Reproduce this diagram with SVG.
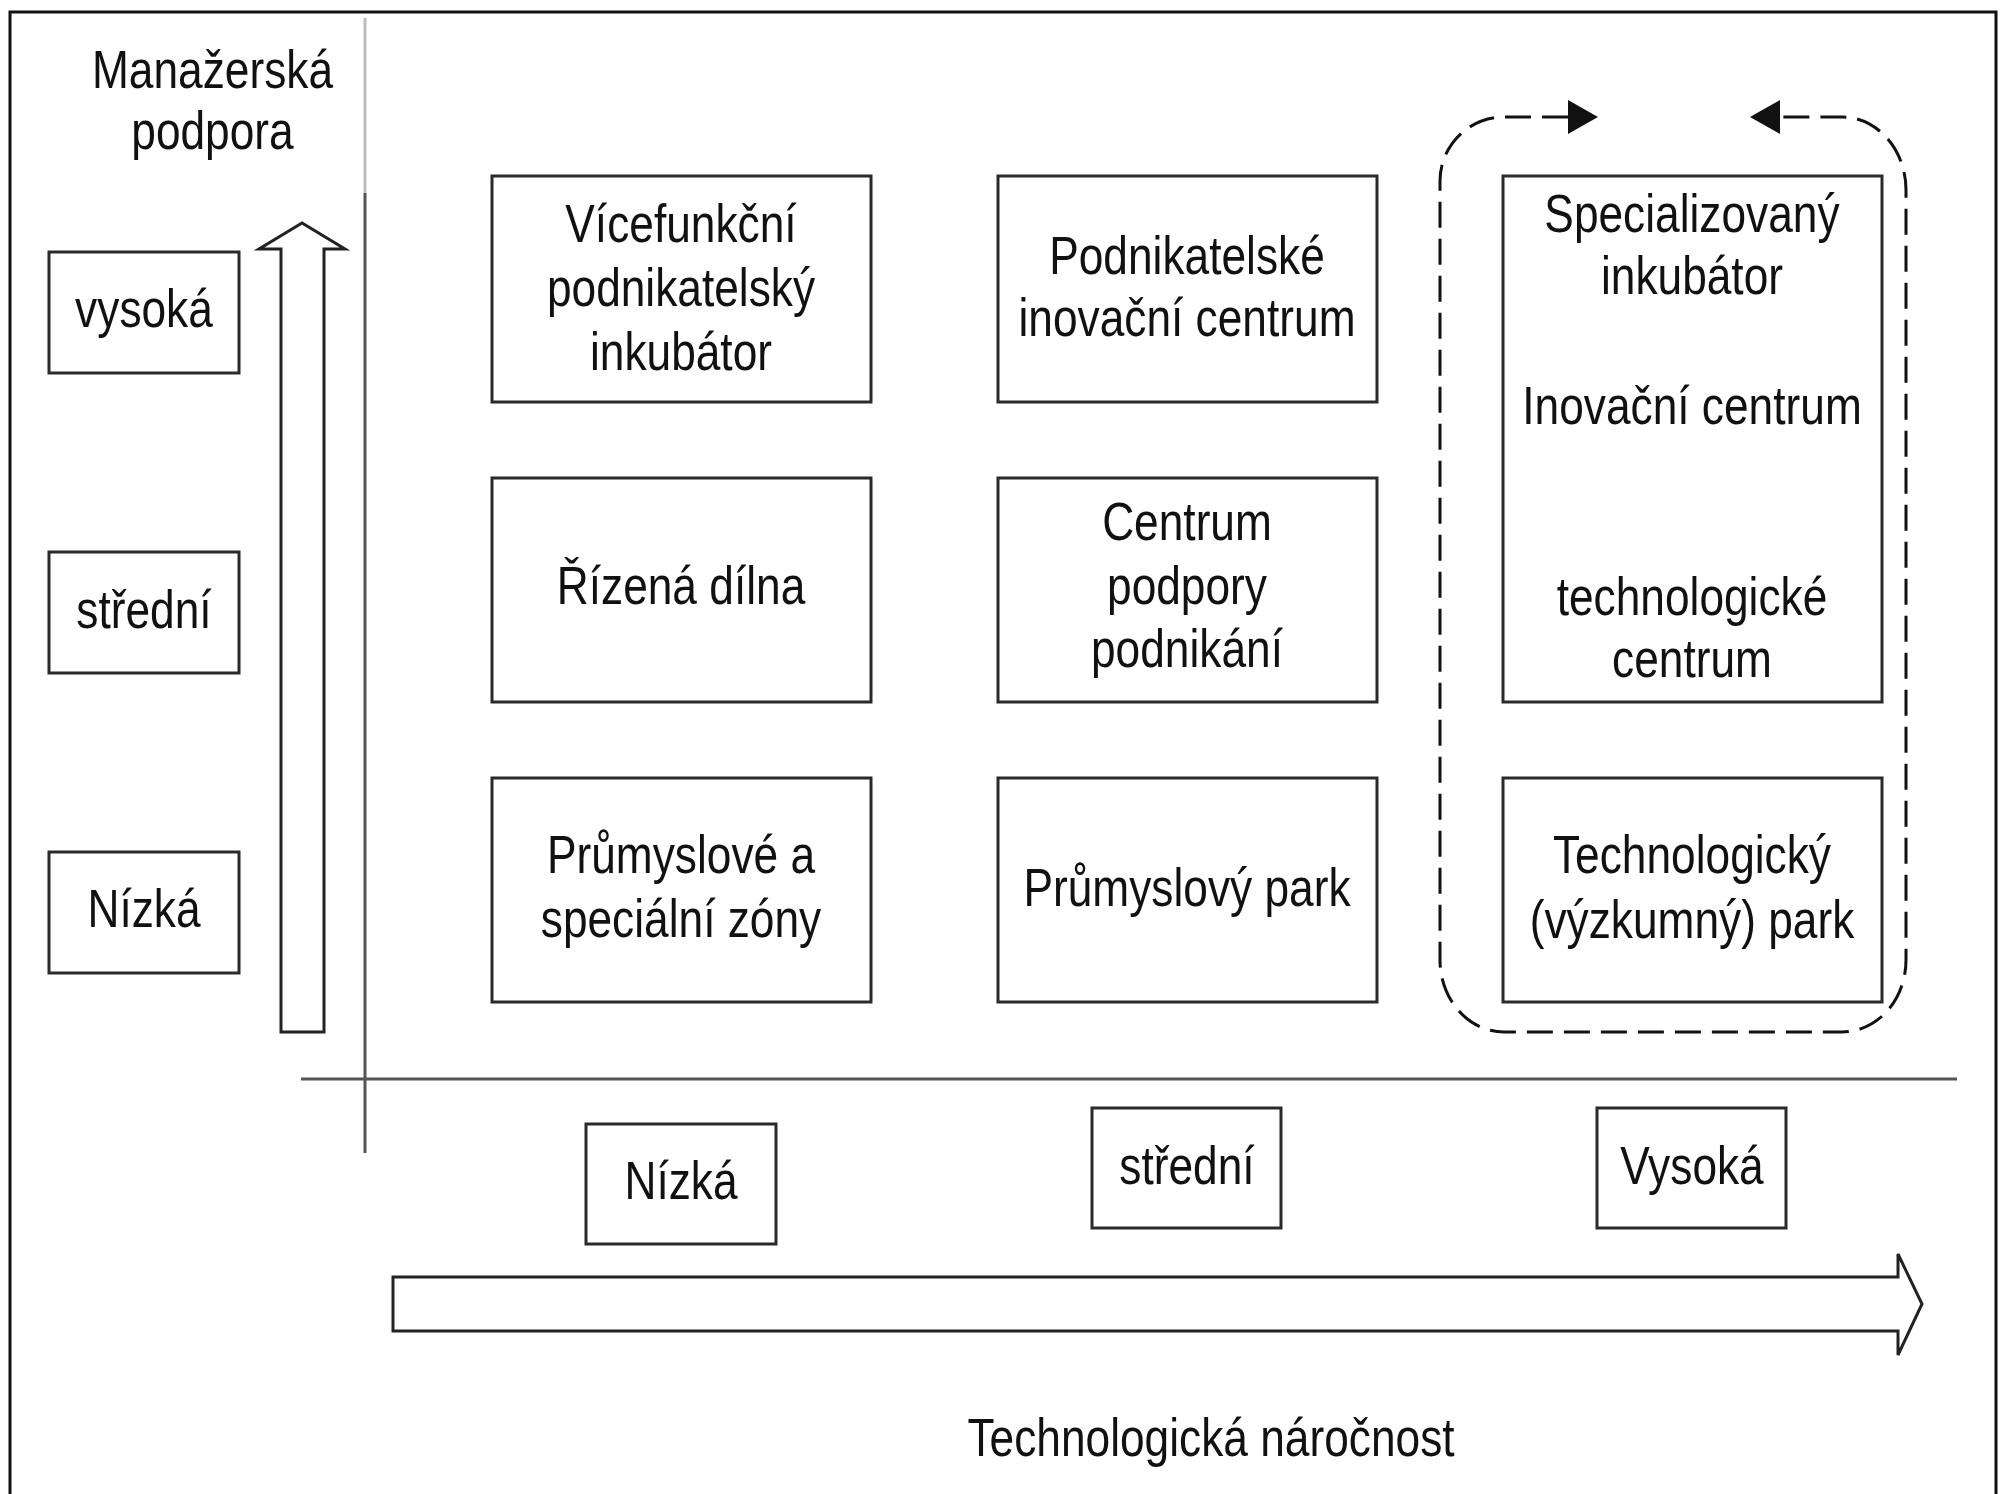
<svg xmlns="http://www.w3.org/2000/svg" width="2002" height="1494" viewBox="0 0 2002 1494">
<style>
.t{font-family:"Liberation Sans Narrow","Liberation Sans",Arial,sans-serif;font-size:54px;text-anchor:middle;fill:#111}
.box{fill:#fff;stroke:#2a2a2a;stroke-width:3}
.axis{fill:none;stroke:#555;stroke-width:3}
.arr{fill:#fff;stroke:#222;stroke-width:3;stroke-linejoin:miter}
.dash{fill:none;stroke:#111;stroke-width:3;stroke-dasharray:26 11}
</style>
<defs>
<marker id="ah" markerUnits="userSpaceOnUse" viewBox="0 0 30 34" markerWidth="30" markerHeight="34" refX="0" refY="17" orient="auto-start-reverse">
<path d="M0,0 L30,17 L0,34 z" fill="#111" stroke="none"/>
</marker>
</defs>
<rect width="2002" height="1494" fill="#fff"/>
<path d="M10,1494 V12 H1996 V1494" fill="none" stroke="#111" stroke-width="3"/>

<g id="axes">
<line x1="365" y1="18" x2="365" y2="193" stroke="#bbb" stroke-width="3"/>
<line x1="365" y1="193" x2="365" y2="1153" class="axis"/>
<line x1="301" y1="1079" x2="1957" y2="1079" class="axis"/>
<polygon class="arr" points="281,1032 281,249 259,249 302,223 345,249 324,249 324,1032"/>
<polygon class="arr" points="393,1277 1898,1277 1898,1254 1922,1304 1898,1355 1898,1331 393,1331"/>
</g>

<g id="connectors">
<path class="dash" d="M1568,117 L1504,117 A64,64 0 0 0 1440,181 L1440,960 A64,72 0 0 0 1504,1032 L1842,1032 A64,72 0 0 0 1906,960 L1906,190 A64,73 0 0 0 1842,117 L1780,117" marker-start="url(#ah)" marker-end="url(#ah)"/>
</g>

<g id="title-y"><g transform="matrix(0.82,0,0,1,38.25,0)"><text class="t" x="212.5" y="88">Manažerská</text><text class="t" x="212.5" y="149">podpora</text></g></g>
<g id="title-x"><g transform="matrix(0.82,0,0,1,217.98,0)"><text class="t" x="1211" y="1456">Technologická náročnost</text></g></g>

<g id="y-high"><rect class="box" x="49" y="252" width="190" height="121"/><g transform="matrix(0.82,0,0,1,25.92,0)"><text class="t" x="144" y="327">vysoká</text></g></g>
<g id="y-mid"><rect class="box" x="49" y="552" width="190" height="121"/><g transform="matrix(0.82,0,0,1,25.92,0)"><text class="t" x="144" y="628">střední</text></g></g>
<g id="y-low"><rect class="box" x="49" y="852" width="190" height="121"/><g transform="matrix(0.82,0,0,1,25.92,0)"><text class="t" x="144" y="927">Nízká</text></g></g>

<g id="x-low"><rect class="box" x="586" y="1124" width="190" height="120"/><g transform="matrix(0.82,0,0,1,122.58,0)"><text class="t" x="681" y="1199">Nízká</text></g></g>
<g id="x-mid"><rect class="box" x="1092" y="1108" width="189" height="120"/><g transform="matrix(0.82,0,0,1,213.66,0)"><text class="t" x="1187" y="1184">střední</text></g></g>
<g id="x-high"><rect class="box" x="1597" y="1108" width="189" height="120"/><g transform="matrix(0.82,0,0,1,304.56,0)"><text class="t" x="1692" y="1184">Vysoká</text></g></g>

<g id="n-vicefunkcni"><rect class="box" x="492" y="176" width="379" height="226"/>
<g transform="matrix(0.82,0,0,1,122.58,0)"><text class="t" x="681" y="242">Vícefunkční</text><text class="t" x="681" y="306">podnikatelský</text><text class="t" x="681" y="370">inkubátor</text></g></g>
<g id="n-pic"><rect class="box" x="998" y="176" width="379" height="226"/>
<g transform="matrix(0.82,0,0,1,213.66,0)"><text class="t" x="1187" y="274">Podnikatelské</text><text class="t" x="1187" y="336">inovační centrum</text></g></g>
<g id="n-specializovany"><rect class="box" x="1503" y="176" width="379" height="526"/>
<g transform="matrix(0.82,0,0,1,304.56,0)"><text class="t" x="1692" y="232">Specializovaný</text><text class="t" x="1692" y="294">inkubátor</text>
<text class="t" x="1692" y="424">Inovační centrum</text>
<text class="t" x="1692" y="615">technologické</text><text class="t" x="1692" y="677">centrum</text></g></g>
<g id="n-rizena"><rect class="box" x="492" y="478" width="379" height="224"/>
<g transform="matrix(0.82,0,0,1,122.58,0)"><text class="t" x="681" y="604">Řízená dílna</text></g></g>
<g id="n-cpp"><rect class="box" x="998" y="478" width="379" height="224"/>
<g transform="matrix(0.82,0,0,1,213.66,0)"><text class="t" x="1187" y="540">Centrum</text><text class="t" x="1187" y="604">podpory</text><text class="t" x="1187" y="667">podnikání</text></g></g>
<g id="n-zony"><rect class="box" x="492" y="778" width="379" height="224"/>
<g transform="matrix(0.82,0,0,1,122.58,0)"><text class="t" x="681" y="873">Průmyslové a</text><text class="t" x="681" y="937">speciální zóny</text></g></g>
<g id="n-park"><rect class="box" x="998" y="778" width="379" height="224"/>
<g transform="matrix(0.82,0,0,1,213.66,0)"><text class="t" x="1187" y="906">Průmyslový park</text></g></g>
<g id="n-techpark"><rect class="box" x="1503" y="778" width="379" height="224"/>
<g transform="matrix(0.82,0,0,1,304.56,0)"><text class="t" x="1692" y="873">Technologický</text><text class="t" x="1692" y="938">(výzkumný) park</text></g></g>
</svg>
